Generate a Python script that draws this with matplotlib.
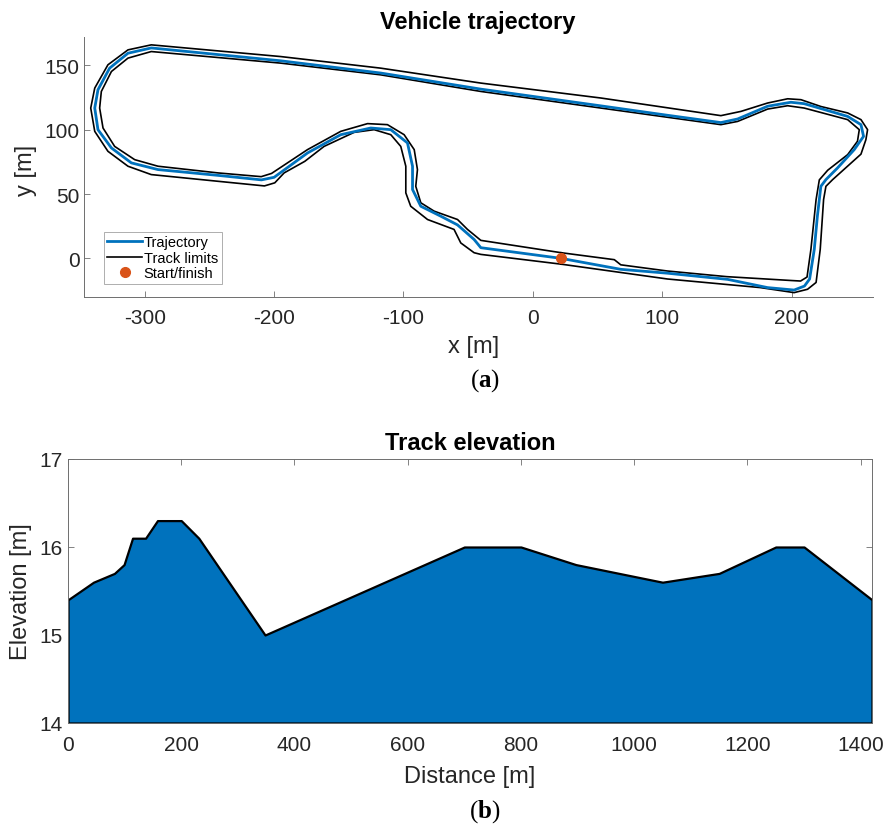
import numpy as np
import matplotlib
matplotlib.use("Agg")
import matplotlib.pyplot as plt

plt.rcParams['font.family'] = ['Liberation Sans', 'DejaVu Sans']
plt.rcParams['axes.unicode_minus'] = False
plt.rcParams['mathtext.fontset'] = 'custom'
plt.rcParams['mathtext.rm'] = 'Liberation Serif'
plt.rcParams['mathtext.bf'] = 'Liberation Serif:bold'

# ---- vehicle trajectory (x, y in m), loop starting at start/finish ----
traj_x = [22, 68, 104, 150.6, 181.5, 202, 210, 214, 217.6, 220, 222.7, 226.6,
          235.6, 248.5, 255.7, 253.7, 243.4, 209.8, 199.5, 181.5, 158.3, 145.4,
          104, 52.6, -40.2, -117.6, -194.9, -295, -313, -327.2, -336.2, -338.7,
          -336.2, -325.8, -310.4, -289.8, -243.4, -209.8, -200, -174.2, -148.5,
          -125.3, -109.8, -96.9, -93, -93, -86.6, -71.2, -58.2, -45.4, -40.2, 22]
traj_y = [0, -8.5, -11.5, -16.3, -22.7, -24.6, -21.5, -16, 7, 32.8, 56, 61.2,
          70.3, 84.5, 94.8, 103.9, 110.3, 120.2, 121.3, 118.2, 108.3, 105.5,
          111.2, 118.5, 131.5, 144, 153.5, 163.5, 159.4, 147.8, 131, 116.8,
          100, 85.8, 74.2, 69, 64.5, 61, 63, 81.9, 96.1,
          101.3, 100, 89.7, 71.6, 53.5, 40.5, 32.8, 26, 14.7, 8.3, 0]

# track limit on the inside of the loop
inner_x = [22, 63, 68, 104, 150, 200, 207, 212, 215, 219, 221.5, 228, 243.4,
           251, 252.4, 243.4, 209.8, 197, 181.5, 158.3, 145.4, 52.6, -40.2,
           -117.6, -194.9, -295, -313, -325.8, -333.6, -334.9, -332.3, -323.3,
           -307.8, -289.8, -243.4, -210, -202, -174.2, -148.5, -127.8, -112.4,
           -99.5, -91.7, -89.2, -90.5, -86.6, -76.3, -58.2, -50.5, -40.2, 22]
inner_y = [4.4, -1, -5, -9.8, -14.2, -17.2, -17.6, -14.5, 7, 45.7, 61, 68.5, 80.6,
           91, 100, 107.8, 116.8, 118.6, 116, 106.4, 103.9, 116.8, 129.7,
           142.6, 151.7, 160.7, 155.6, 145.2, 129.7, 116.8, 101.3, 87,
           76.7, 71.6, 66.4, 63.5, 66, 84.5, 98.7, 104.7, 103.9,
           96.1, 84.5, 69, 56, 43.2, 36.7, 30.2, 22.5, 14, 4.4]

# track limit on the outside of the loop
outer_x = [22, 104, 176, 202, 212.4, 219, 222.2, 224.8, 226.6, 231.8, 253.7,
           257.5, 258.8, 253.7, 243.4, 222.7, 207.3, 197, 181.5, 160.9, 145.4,
           52.6, -40.2, -117.6, -194.9, -295, -313, -328.5, -338.7, -341.8,
           -338.7, -328.5, -313, -295, -243.4, -207.5, -199.5, -192.3, -176.3,
           -161.4, -138.2, -122.7, -109.8, -102.1, -98.2, -98.2, -94.4, -81.4,
           -60.9, -55.7, -45.4, -40.2, 22]
outer_y = [-4.5, -16, -22.7, -26.6, -24, -18.7, 7, 45.7, 56, 61.2, 81,
           92.2, 100, 107.8, 113, 118, 123.3, 124, 120.7, 114.2, 110.9,
           124.6, 136.2, 147.8, 156.8, 165.9, 162, 150.4, 132.3, 116.8,
           98.7, 83.2, 71.6, 65.1, 59.9, 56.3, 58.7, 66.4, 75.4,
           87, 97.9, 100, 96.1, 87, 71.6, 50.9, 40.5, 30.2,
           22.5, 12, 4.4, 3.1, -4.5]

start_x = [22]
start_y = [0.5]

# ---- track elevation ----
distance = [0, 45, 82, 99, 114, 137, 158, 200, 231, 348, 700, 800, 897,
            1050, 1150, 1250, 1300, 1420]
elevation = [15.4, 15.6, 15.7, 15.8, 16.1, 16.1, 16.3, 16.3, 16.1, 15.0,
             16.0, 16.0, 15.8, 15.6, 15.7, 16.0, 16.0, 15.4]

W, H = 889, 829
BLUE = '#0072BD'
ORANGE = '#D95319'
AXC = '#6e6e6e'
TXT = '#262626'
TICK_FS = 15
LABEL_FS = 17
TITLE_FS = 17

fig = plt.figure(figsize=(W / 100, H / 100), dpi=100)


def px(x, y):
    return x / W, 1 - y / H


# ---------- (a) vehicle trajectory ----------
ax1 = fig.add_axes([84 / W, 1 - 298 / H, (873 - 84) / W, (298 - 38) / H])
ax1.plot(traj_x, traj_y, color=BLUE, lw=2.0, label='Trajectory', zorder=3)
ax1.plot(inner_x, inner_y, color='black', lw=1.2, label='Track limits', zorder=2)
ax1.plot(outer_x, outer_y, color='black', lw=1.2, zorder=2)
ax1.plot(start_x, start_y, 'o', color=ORANGE, ms=7, label='Start/finish', zorder=4)
ax1.set_xlim(-347, 263)
ax1.set_ylim(-30, 172)
ax1.set_xticks([-300, -200, -100, 0, 100, 200])
ax1.set_yticks([0, 50, 100, 150])
for s in ['top', 'right']:
    ax1.spines[s].set_visible(False)
for s in ['left', 'bottom']:
    ax1.spines[s].set_color(AXC)
    ax1.spines[s].set_linewidth(0.7)
ax1.tick_params(direction='in', length=4, width=0.6, color=AXC,
                labelsize=TICK_FS, labelcolor=TXT)
ax1.tick_params(axis='x', pad=8)
ax1.tick_params(axis='y', pad=3)
leg = ax1.legend(loc='lower left', bbox_to_anchor=(0.025, 0.05), fontsize=10.5,
                 frameon=True, fancybox=False, handlelength=2.4,
                 handletextpad=0.1, borderpad=0.25, labelspacing=0.1,
                 borderaxespad=0)
leg.get_frame().set_edgecolor('#8a8a8a')
leg.get_frame().set_linewidth(0.6)

fig.text(*px(478, 22), 'Vehicle trajectory', ha='center', va='center',
         fontsize=TITLE_FS, fontweight='bold', color='black')
fig.text(*px(474, 347), 'x [m]', ha='center', va='center', fontsize=LABEL_FS, color=TXT)
fig.text(*px(26, 170), 'y [m]', ha='center', va='center', rotation=90,
         fontsize=LABEL_FS, color=TXT)
fig.text(*px(485, 381), r'($\mathbf{a}$)', ha='center', va='center',
         fontsize=18, family='Liberation Serif')

# ---------- (b) track elevation ----------
ax2 = fig.add_axes([68 / W, 1 - 724 / H, (872 - 68) / W, (724 - 460) / H])
ax2.fill_between(distance, elevation, 14, facecolor=BLUE, edgecolor='black',
                 lw=1.6, zorder=2)
ax2.set_xlim(0, 1420)
ax2.set_ylim(14, 17)
ax2.set_xticks(np.arange(0, 1401, 200))
ax2.set_yticks([14, 15, 16, 17])
for s in ax2.spines.values():
    s.set_color(AXC)
    s.set_linewidth(0.7)
ax2.tick_params(direction='in', length=4, width=0.6, color=AXC,
                top=True, right=True, labelsize=TICK_FS, labelcolor=TXT)
ax2.tick_params(axis='x', pad=9)
ax2.tick_params(axis='y', pad=4)

fig.text(*px(470, 444), 'Track elevation', ha='center', va='center',
         fontsize=TITLE_FS, fontweight='bold', color='black')
fig.text(*px(470, 777), 'Distance [m]', ha='center', va='center',
         fontsize=LABEL_FS, color=TXT)
fig.text(*px(21, 592), 'Elevation [m]', ha='center', va='center', rotation=90,
         fontsize=LABEL_FS, color=TXT)
fig.text(*px(485, 812), r'($\mathbf{b}$)', ha='center', va='center',
         fontsize=18, family='Liberation Serif')

fig.savefig('out.png', dpi=100, facecolor='white')
